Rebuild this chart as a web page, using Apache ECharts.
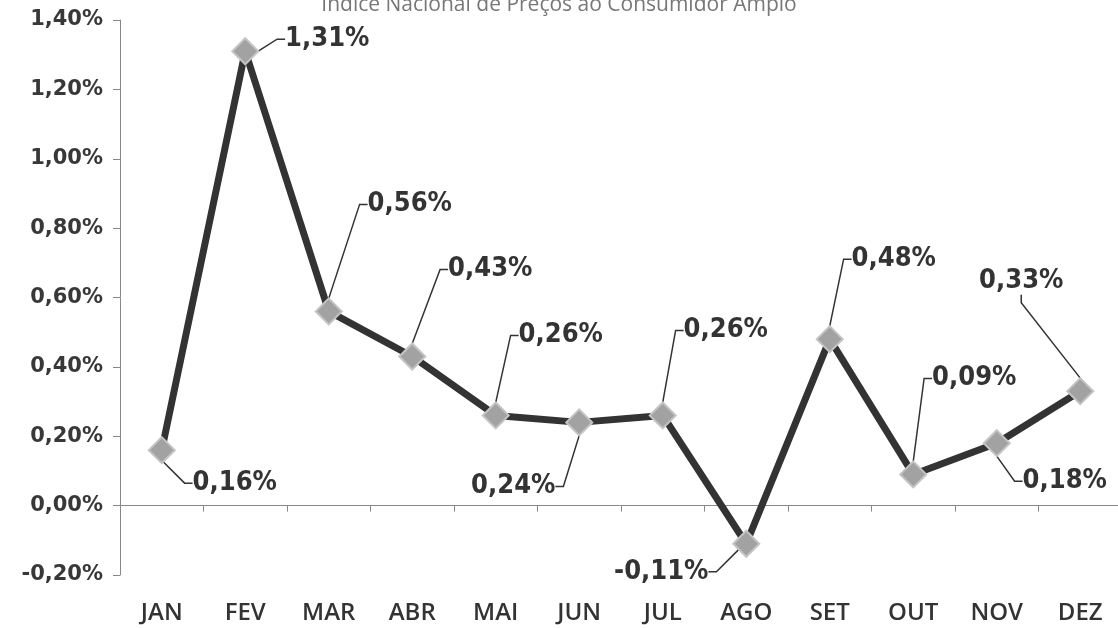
<!DOCTYPE html>
<html>
<head>
<meta charset="utf-8">
<script src="https://cdn.jsdelivr.net/npm/echarts@6/dist/echarts.min.js"></script>
<style>
  html, body { margin: 0; padding: 0; background: #fff; }
  #chart { width: 1118px; height: 628px; }
</style>
</head>
<body>
<div id="chart"></div>
<script>
// IPCA monthly values (%)
var months = ['JAN', 'FEV', 'MAR', 'ABR', 'MAI', 'JUN', 'JUL', 'AGO', 'SET', 'OUT', 'NOV', 'DEZ'];
var ipca = [0.16, 1.31, 0.56, 0.43, 0.26, 0.24, 0.26, -0.11, 0.48, 0.09, 0.18, 0.33];

// where each callout label sits relative to its point (px)
var labelShift = [
  [73, 33], [82, -12], [81, -107], [78, -87], [65, -80], [-66, 64],
  [63, -85], [-85, 28], [64, -80], [61, -96], [68, 38], [-59, -110]
];

function pct(v) {
  return v.toFixed(2).replace('.', ',') + '%';
}

var myChart = echarts.init(document.getElementById('chart'));

var option = {
  animation: false,
  title: {
    text: 'Índice Nacional de Preços ao Consumidor Amplo',
    left: 'center',
    top: -10,
    textStyle: { fontFamily: 'Open Sans', fontWeight: 'normal', fontSize: 21, color: '#777' }
  },
  grid: { left: 120, right: -4, top: 20, bottom: 53, outerBoundsMode: 'none', containLabel: false },
  xAxis: [
    {
      // axis line at zero with ticks
      type: 'category',
      data: months,
      axisLine: { onZero: true, lineStyle: { color: '#888', width: 1 } },
      axisTick: { show: true, length: 6, lineStyle: { color: '#888' } },
      axisLabel: { show: false }
    },
    {
      // month names along the bottom
      type: 'category',
      data: months,
      position: 'bottom',
      axisLine: { show: false, onZero: false },
      axisTick: { show: false },
      axisLabel: {
        margin: 25,
        interval: 0,
        fontFamily: 'Open Sans',
        fontWeight: 600,
        fontSize: 24,
        lineHeight: 26,
        color: '#333'
      }
    }
  ],
  yAxis: {
    type: 'value',
    min: -0.2,
    max: 1.4,
    interval: 0.2,
    splitLine: { show: false },
    axisLine: { show: true, lineStyle: { color: '#888', width: 1 } },
    axisTick: { show: true, length: 7, lineStyle: { color: '#888' } },
    axisLabel: {
      margin: 17,
      fontFamily: 'DejaVu Sans',
      fontWeight: 'bold',
      fontSize: 21,
      color: '#383838',
      formatter: function (v) { return pct(v); }
    }
  },
  series: [
    {
      type: 'line',
      data: ipca,
      symbol: 'diamond',
      symbolSize: 26,
      lineStyle: { color: '#333', width: 7 },
      itemStyle: { color: '#a2a2a2', borderColor: '#c4c4c4', borderWidth: 2 },
      z: 3,
      label: {
        show: true,
        position: 'inside',
        fontFamily: '"DejaVu Sans Condensed", "DejaVu Sans", sans-serif',
        fontWeight: 'bold',
        fontSize: 27,
        color: '#333',
        formatter: function (p) { return pct(p.value); }
      },
      labelLine: {
        show: true,
        length2: 8,
        lineStyle: { color: '#333', width: 1.5 }
      },
      labelLayout: function (params) {
        var s = labelShift[params.dataIndex];
        return { dx: s[0], dy: s[1] };
      }
    }
  ]
};

myChart.setOption(option);
</script>
</body>
</html>
